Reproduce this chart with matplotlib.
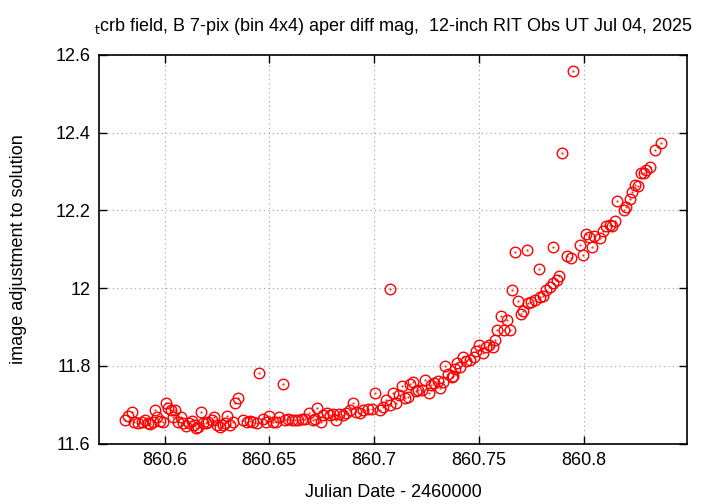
import numpy as np
import matplotlib
matplotlib.use('Agg')
import matplotlib.pyplot as plt
from matplotlib.ticker import FuncFormatter

plt.rcParams['font.family'] = ['Liberation Sans', 'DejaVu Sans']

# Julian date - 2460000 and magnitude adjustment
jd = [
    860.5811, 860.5827, 860.5843, 860.5854, 860.5875, 860.5891, 860.5907, 860.5920,
    860.5931, 860.5944, 860.5955, 860.5966, 860.5979, 860.5991, 860.6007, 860.6018,
    860.6031, 860.6039, 860.6052, 860.6066, 860.6077, 860.6090, 860.6103, 860.6116,
    860.6130, 860.6141, 860.6150, 860.6161, 860.6173, 860.6185, 860.6198, 860.6209,
    860.6225, 860.6236, 860.6249, 860.6265, 860.6278, 860.6289, 860.6300, 860.6313,
    860.6326, 860.6338, 860.6351, 860.6376, 860.6393, 860.6408, 860.6424, 860.6440,
    860.6453, 860.6469, 860.6485, 860.6498, 860.6517, 860.6532, 860.6548, 860.6564,
    860.6575, 860.6591, 860.6607, 860.6623, 860.6639, 860.6655, 860.6671, 860.6691,
    860.6708, 860.6719, 860.6730, 860.6746, 860.6758, 860.6775, 860.6790, 860.6806,
    860.6819, 860.6835, 860.6851, 860.6867, 860.6883, 860.6899, 860.6915, 860.6935,
    860.6949, 860.6973, 860.6989, 860.7005, 860.7026, 860.7042, 860.7058, 860.7076,
    860.7074, 860.7090, 860.7106, 860.7117, 860.7133, 860.7149, 860.7160, 860.7172,
    860.7188, 860.7201, 860.7212, 860.7228, 860.7244, 860.7260, 860.7271, 860.7287,
    860.7303, 860.7316, 860.7329, 860.7340, 860.7355, 860.7372, 860.7379, 860.7387,
    860.7395, 860.7411, 860.7424, 860.7440, 860.7459, 860.7475, 860.7488, 860.7503,
    860.7520, 860.7535, 860.7551, 860.7567, 860.7578, 860.7589, 860.7606, 860.7621,
    860.7634, 860.7650, 860.7658, 860.7674, 860.7685, 860.7701, 860.7713, 860.7730,
    860.7733, 860.7749, 860.7769, 860.7785, 860.7790, 860.7806, 860.7822, 860.7838,
    860.7854, 860.7854, 860.7873, 860.7881, 860.7897, 860.7921, 860.7940, 860.7952,
    860.7981, 860.7997, 860.8013, 860.8024, 860.8040, 860.8051, 860.8080, 860.8093,
    860.8108, 860.8124, 860.8136, 860.8151, 860.8159, 860.8191, 860.8204, 860.8220,
    860.8231, 860.8247, 860.8258, 860.8274, 860.8287, 860.8299, 860.8315, 860.8342,
    860.8370,
]
mag = [
    11.661, 11.671, 11.682, 11.656, 11.654, 11.656, 11.661, 11.654,
    11.650, 11.656, 11.685, 11.669, 11.658, 11.656, 11.705, 11.691,
    11.685, 11.668, 11.686, 11.656, 11.669, 11.652, 11.645, 11.652,
    11.659, 11.648, 11.639, 11.643, 11.682, 11.654, 11.652, 11.656,
    11.661, 11.668, 11.648, 11.643, 11.648, 11.652, 11.671, 11.648,
    11.656, 11.704, 11.716, 11.661, 11.656, 11.658, 11.656, 11.652,
    11.782, 11.662, 11.656, 11.671, 11.656, 11.656, 11.668, 11.753,
    11.661, 11.662, 11.661, 11.661, 11.661, 11.662, 11.662, 11.679,
    11.661, 11.662, 11.691, 11.656, 11.673, 11.679, 11.673, 11.676,
    11.661, 11.676, 11.673, 11.679, 11.686, 11.704, 11.682, 11.678,
    11.686, 11.688, 11.688, 11.731, 11.686, 11.693, 11.712, 11.998,
    11.699, 11.729, 11.704, 11.725, 11.748, 11.716, 11.721, 11.753,
    11.759, 11.734, 11.738, 11.738, 11.764, 11.731, 11.751, 11.757,
    11.762, 11.742, 11.759, 11.800, 11.779, 11.772, 11.774, 11.791,
    11.807, 11.797, 11.822, 11.813, 11.815, 11.822, 11.837, 11.854,
    11.832, 11.849, 11.854, 11.849, 11.867, 11.893, 11.927, 11.891,
    11.918, 11.893, 11.994, 12.092, 11.968, 11.934, 11.940, 12.097,
    11.961, 11.965, 11.970, 12.048, 11.978, 11.980, 11.996, 12.004,
    12.013, 12.106, 12.021, 12.032, 12.348, 12.083, 12.077, 12.558,
    12.112, 12.086, 12.140, 12.131, 12.106, 12.133, 12.129, 12.146,
    12.159, 12.163, 12.159, 12.172, 12.223, 12.202, 12.209, 12.229,
    12.246, 12.266, 12.264, 12.296, 12.295, 12.305, 12.312, 12.355,
    12.374,
]

xticks = [860.6, 860.65, 860.7, 860.75, 860.8]
yticks = [11.6, 11.8, 12.0, 12.2, 12.4, 12.6]

fig = plt.figure(figsize=(7.2, 5.04), dpi=100)
ax = fig.add_axes([0.1375, 0.12, 0.817, 0.771])

ax.plot(jd, mag, 'o', mfc='none', mec='red', ms=7.6, mew=1.0, ls='none')
ax.plot(jd, mag, '.', color='red', ms=1.0, ls='none')

ax.set_xlim(860.5687, 860.8495)
ax.set_ylim(11.6, 12.6)
ax.set_xticks(xticks)
ax.set_yticks(yticks)
ax.xaxis.set_major_formatter(FuncFormatter(lambda v, p: '%g' % v))
ax.yaxis.set_major_formatter(FuncFormatter(lambda v, p: '%g' % v))

ax.grid(True, color='#a0a0a0', linestyle=(0, (1, 3)), linewidth=0.8)
ax.tick_params(direction='in', top=True, right=True, length=6, width=1,
               labelsize=13, pad=6)
for s in ax.spines.values():
    s.set_linewidth(1.2)

ax.set_xlabel('Julian Date - 2460000', fontsize=13)
ax.xaxis.set_label_coords(0.5, -0.105)
ax.set_ylabel('image adjustment to solution', fontsize=13)
ax.yaxis.set_label_coords(-0.122, 0.5)
fig.text(0.546, 0.9385,
         r'$_{\mathrm{t}}$crb field, B 7-pix (bin 4x4) aper diff mag,  12-inch RIT Obs UT Jul 04, 2025',
         fontsize=13, ha='center', va='baseline')

fig.savefig('out.png', dpi=100)
